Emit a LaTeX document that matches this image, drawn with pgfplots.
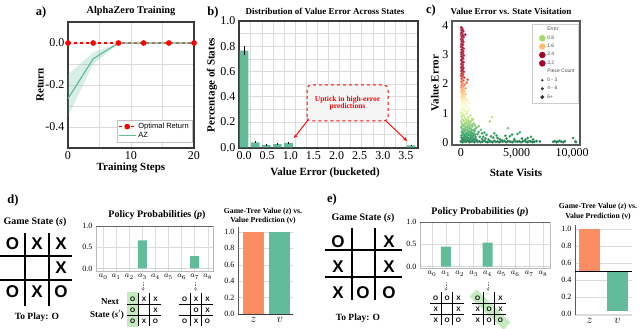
\documentclass[border=0pt]{standalone}
\usepackage{pgfplots}
\pgfplotsset{compat=1.18}
\usetikzlibrary{arrows.meta}
\usepackage{fontspec}
\setmainfont{Liberation Serif}
\setsansfont{Liberation Sans}
\definecolor{sgreen}{HTML}{62BC9A}
\definecolor{sorange}{HTML}{FC8D62}
\definecolor{spine}{HTML}{3A3A3A}
\definecolor{gridc}{HTML}{DCDCDC}
\definecolor{hl}{HTML}{C5EAC0}
\definecolor{lg1}{HTML}{A6D96A}
\definecolor{lg2}{HTML}{FDBF6F}
\definecolor{lg3}{HTML}{A50026}
\newcommand{\fs}[1]{\fontsize{#1}{#1}\selectfont}
\pgfplotsset{
  base/.style={scale only axis, anchor=south west,
    axis line style={spine, line width=1.2pt},
    major tick length=0pt, minor tick length=0pt,
    /pgf/number format/assume math mode=true,
    ticklabel style={font=\fs{12}},
    grid style={gridc, line width=0.7pt},
    minor grid style={gridc, line width=0.7pt},
  },
  small/.style={scale only axis, anchor=south west,
    axis line style={gray!55, line width=0.6pt},
    major tick length=0pt, minor tick length=0pt,
    /pgf/number format/assume math mode=true,
    ticklabel style={font=\fs{8}},
    grid style={gridc, line width=0.5pt},
  },
}
\newcommand{\smallboard}[3]{%
  \foreach \cell [count=\i from 0] in {#3} {
    \pgfmathtruncatemacro{\row}{int(\i/3)}
    \pgfmathtruncatemacro{\col}{mod(\i,3)}
    \node[font=\sffamily\bfseries\fs{6.5}, inner sep=0pt] at ({#1+(\col+0.5)*11.4},{#2+(2.5-\row)*11}) {\cell};
  }
  \draw[line width=0.9pt] ({#1+11.4},{#2}) -- ({#1+11.4},{#2+33}) ({#1+22.8},{#2}) -- ({#1+22.8},{#2+33})
    ({#1},{#2+11}) -- ({#1+34.2},{#2+11}) ({#1},{#2+22}) -- ({#1+34.2},{#2+22});
}
\begin{document}
\begin{tikzpicture}[x=1pt,y=1pt]
\path[use as bounding box] (0,0) rectangle (640,329);

% ---------------- panel a ----------------
\begin{axis}[base, at={(68pt,181pt)}, width=126pt, height=126pt,
  xmin=0, xmax=20, ymin=-0.5, ymax=0.1,
  xtick={0,10,20}, minor xtick={5,15},
  ytick={-0.4,-0.2,0}, yticklabels={-0.4,-0.2,0.0}, minor ytick={-0.3,-0.1},
  grid=both,
  legend style={at={(0.984,0.048)}, anchor=south east, font=\sffamily\fs{7.5},
    draw=gray!50, inner sep=1pt, row sep=-2pt},
  legend cell align=left]
\addplot[fill=sgreen, fill opacity=0.25, draw=none, forget plot] coordinates {(0,-0.15) (4,-0.045) (8,0) (20,0) (20,0) (8,-0.005) (4,-0.10) (0,-0.35)} -- cycle;
\addplot[red, dashed, line width=1.2pt, mark=*, mark size=2.2pt, mark options={solid}] coordinates {(0,0) (4,0) (8,0) (12,0) (16,0) (20,0)};
\addlegendentry{Optimal Return}
\addplot[sgreen, line width=1.2pt] coordinates {(0,-0.265) (4,-0.075) (8,0) (12,0) (16,0) (20,0)};
\addlegendentry{AZ}
\end{axis}
\node[font=\fs{12.5}\bfseries] at (41,317) {a)};
\node[font=\fs{10.3}\bfseries] at (131,318) {AlphaZero Training};
\node[font=\fs{11}\bfseries, rotate=90] at (40,244) {Return};
\node[font=\fs{11}\bfseries] at (131,161) {Training Steps};

% ---------------- panel b ----------------
\begin{axis}[base, at={(239pt,181pt)}, width=179pt, height=127pt,
  xmin=-0.11, xmax=3.76, ymin=-0.005, ymax=1.0,
  xtick={0,0.5,...,3.5}, ytick={0,0.2,...,1.0},
  minor xtick={0.144,0.384,0.624,0.864,1.104,1.344,1.584,1.824,2.064,2.304,2.544,2.784,3.024,3.264,3.504},
  minor ytick={0.1,0.3,0.5,0.7,0.9},
  xmajorgrids=false, xminorgrids=true, ymajorgrids=true, yminorgrids=true,
  xticklabel style={/pgf/number format/.cd, fixed, fixed zerofill, precision=1},
  yticklabel style={/pgf/number format/.cd, fixed, fixed zerofill, precision=1},
  ybar, bar width=8.7pt, bar shift=0pt]
\addplot[fill=sgreen, draw=none,
  error bars/.cd, y dir=both, y explicit, error bar style={black, line width=0.9pt}, error mark=none]
  table[x=x, y=y, y error=e] {
x y e
0.00 0.765 0.035
0.24 0.040 0.008
0.48 0.020 0.005
0.72 0.025 0.006
0.96 0.035 0.010
1.20 0 0
1.44 0 0
1.68 0 0
1.92 0 0
2.16 0 0
2.40 0 0
2.64 0 0
2.88 0 0
3.12 0 0
3.36 0 0
3.61 0.015 0.004
};
\end{axis}
\node[font=\fs{12.5}\bfseries] at (213,317) {b)};
\node[font=\fs{9}\bfseries] at (325,318) {Distribution of Value Error Across States};
\node[font=\fs{11}\bfseries, rotate=90] at (212,244) {Percentage of States};
\node[font=\fs{11}\bfseries] at (325,156) {Value Error (bucketed)};
\draw[red, dashed, line width=1pt, fill=gray!8, rounded corners=4pt] (307,208) rectangle (388,244);
\node[red, font=\fs{7.5}\bfseries, align=center] at (347.5,226) {Uptick in high-error\\predictions};
\draw[red, line width=0.9pt, -{Stealth[length=4pt,width=3.5pt]}] (308,209) -- (294,191);
\draw[red, line width=0.9pt, -{Stealth[length=4pt,width=3.5pt]}] (386,208) -- (407,188);

% ---------------- panel c ----------------
\begin{axis}[base, at={(452pt,184pt)}, width=128pt, height=124pt,
  axis line style={gray!70!black, line width=1.4pt},
  xmin=-810, xmax=10720, ymin=-0.1, ymax=4.17, scaled x ticks=false,
  xtick={0,5000,10000}, xticklabels={0,{5,000},{10,000}}, ytick={0,1,2,3,4},
  colormap={rdylgn}{rgb255=(0,104,55) rgb255=(26,152,80) rgb255=(102,189,99) rgb255=(166,217,106) rgb255=(217,239,139) rgb255=(255,255,191) rgb255=(254,224,139) rgb255=(253,174,97) rgb255=(244,109,67) rgb255=(215,48,39) rgb255=(165,0,38)},
  point meta min=0, point meta max=2.5,
  legend style={at={(0.984,0.976)}, anchor=north east, font=\sffamily\fs{5}, text=gray!60!black,
    draw=gray!40, row sep=-0.6pt, inner sep=1.2pt},
  legend cell align=left]
\addplot[scatter, only marks, mark=*, mark size=1.25pt, point meta=explicit, forget plot,
  scatter/use mapped color={draw=mapped color!70!white, fill=mapped color}]
  table[x=x, y=y, meta=y] {
x y
0 0.02
150 0.00
300 0.03
450 0.01
600 0.04
750 0.00
900 0.02
1050 0.03
1200 0.00
1350 0.04
1500 0.01
1650 0.03
1800 0.00
1950 0.02
2100 0.04
2250 0.01
2400 0.00
2550 0.03
2700 0.02
2850 0.00
3000 0.04
3150 0.01
3300 0.02
3450 0.00
3600 0.03
3750 0.01
3900 0.04
4050 0.00
4200 0.02
4350 0.03
4500 0.01
4650 0.00
4800 0.04
4950 0.02
5100 0.01
5250 0.03
5400 0.00
5550 0.02
5700 0.04
5850 0.01
6000 0.00
6150 0.03
6300 0.02
6450 0.00
6600 0.01
6800 0.03
7100 0.02
8300 0.01
8450 0.03
8600 0.00
8750 0.02
8900 0.04
9050 0.01
9200 0.00
9350 0.03
10300 0.02
10350 0.00
10100 0.14
2800 0.86
2600 0.72
4230 0.48
5300 0.34
5100 0.28
3000 0.30
2900 0.15
3200 0.22
1800 0.42
1900 0.30
2000 0.18
4400 0.20
4100 0.12
4600 0.26
6000 0.14
6300 0.18
5800 0.08
3500 0.10
2300 0.25
1600 0.55
1900 0.10
2200 0.12
2500 0.08
2700 0.20
3300 0.14
3700 0.06
4000 0.22
4800 0.10
5500 0.12
6500 0.09
2100 0.33
1400 0.50
100 0.05
300 0.12
500 0.20
700 0.08
200 0.30
900 0.25
1100 0.05
1300 0.18
250 0.15
650 0.35
850 0.12
1050 0.30
350 0.40
800 0.02
450 0.04
1000 0.06
200 0.08
1300 0.10
600 0.12
900 0.14
50 0.16
1700 0.18
400 0.20
1100 0.22
700 0.24
250 0.26
1500 0.28
850 0.30
500 0.32
80 0.34
1200 0.36
300 0.38
950 0.40
600 0.42
150 0.44
1300 0.46
750 0.48
100 0.10
250 0.05
400 0.09
550 0.16
700 0.13
850 0.21
1000 0.17
1150 0.11
1250 0.26
1400 0.07
50 0.22
180 0.28
320 0.24
480 0.30
620 0.27
780 0.36
930 0.33
1080 0.41
1220 0.39
120 0.37
270 0.45
420 0.43
570 0.50
720 0.55
870 0.47
1020 0.60
60 0.53
210 0.58
360 0.63
510 0.68
660 0.74
820 0.66
1100 0.77
1250 0.58
1600 0.35
30 0.50
400 0.52
1000 0.54
200 0.56
800 0.58
550 0.60
100 0.62
1150 0.64
350 0.66
700 0.68
20 0.70
900 0.72
250 0.74
500 0.76
120 0.78
1000 0.80
380 0.82
650 0.85
60 0.88
280 0.90
850 0.92
150 0.95
450 0.98
10 1.02
600 1.05
320 1.08
90 1.12
750 1.15
200 1.18
550 1.22
30 1.25
400 1.28
120 1.32
700 1.35
280 1.38
60 1.42
480 1.45
150 1.48
350 1.52
20 1.55
250 1.58
100 1.62
420 1.65
180 1.68
30 1.72
300 1.75
80 1.78
140 1.82
400 1.85
10 1.88
220 1.92
60 1.95
350 1.98
120 2.02
520 2.05
30 2.08
200 2.12
600 2.15
60 2.18
290 2.22
130 2.25
10 2.28
190 2.32
50 2.35
100 2.38
260 2.42
30 2.45
150 2.48
70 2.52
210 2.55
20 2.58
110 2.62
170 2.65
40 2.68
80 2.72
230 2.75
140 2.78
10 2.82
60 2.85
190 2.88
120 2.92
30 2.95
250 2.98
70 3.02
160 3.05
20 3.08
200 3.12
100 3.15
50 3.18
240 3.22
140 3.25
10 3.28
80 3.32
180 3.35
30 3.38
120 3.42
210 3.45
60 3.48
150 3.52
20 3.55
90 3.58
230 3.62
50 3.65
170 3.68
380 3.70
10 3.72
110 3.75
60 3.78
200 3.82
30 3.85
140 3.88
80 3.92
20 3.95
};
\addlegendimage{empty legend}\addlegendentry{Error}
\addlegendimage{only marks, mark=*, mark size=3pt, color=lg1}\addlegendentry{0.8}
\addlegendimage{only marks, mark=*, mark size=3pt, color=lg2}\addlegendentry{1.6}
\addlegendimage{only marks, mark=*, mark size=3pt, color=lg3}\addlegendentry{2.4}
\addlegendimage{only marks, mark=*, mark size=3pt, color=lg3}\addlegendentry{3.2}
\addlegendimage{empty legend}\addlegendentry{Piece Count}
\addlegendimage{only marks, mark=*, mark size=0.9pt, color=black!80}\addlegendentry{0 - 3}
\addlegendimage{only marks, mark=*, mark size=1.3pt, color=black!80}\addlegendentry{4 - 6}
\addlegendimage{only marks, mark=*, mark size=1.8pt, color=black!80}\addlegendentry{6+}
\end{axis}
\node[font=\fs{12.5}\bfseries] at (431,319) {c)};
\node[font=\fs{9}\bfseries] at (511,318) {Value Error vs. State Visitation};
\node[font=\fs{11}\bfseries, rotate=90] at (435,246) {Value Error};
\node[font=\fs{11}\bfseries] at (516,156) {State Visits};

% ---------------- panel d ----------------
\node[font=\fs{12.5}\bfseries] at (13,129) {d)};
\node[font=\fs{10}\bfseries] at (35,107) {Game State (\textit{s})};
\draw[line width=1.8pt] (25,96) -- (25,23) (49,96) -- (49,23) (0,73) -- (72,73) (0,49) -- (72,49);
\begin{scope}[every node/.style={font=\sffamily\bfseries\fs{17}}]
\node at (12.5,85) {O}; \node at (37,85) {X}; \node at (61,85) {X};
\node at (61,61) {X};
\node at (12.5,37) {O}; \node at (37,37) {X}; \node at (61,37) {O};
\end{scope}
\node[font=\fs{9.5}\bfseries] at (37,12) {To Play: O};

\begin{axis}[small, at={(96pt,58pt)}, width=117pt, height=45pt,
  xmin=-0.55, xmax=8.4, ymin=-0.06, ymax=1.0,
  xtick={0,...,8}, xticklabels={$a_0$,$a_1$,$a_2$,$a_3$,$a_4$,$a_5$,$a_6$,$a_7$,$a_8$},
  ytick={0,0.5,1}, yticklabels={0.0,0.5,1.0}, grid=major,
  ybar, bar width=9pt, bar shift=0pt]
\addplot[fill=sgreen, draw=none] coordinates {(0,0) (1,0) (2,0) (3,0.66) (4,0) (5,0) (6,0) (7,0.29) (8,0)};
\draw[gray!80!black, line width=0.8pt] (rel axis cs:0,1) -- (rel axis cs:1,1);
\end{axis}
\node[font=\fs{10}\bfseries] at (157,114) {Policy Probabilities (\textit{p})};
\draw[gray, densely dotted, line width=0.7pt, -{Stealth[length=3pt,width=3pt]}] (143,47) -- (143,38);
\draw[gray, densely dotted, line width=0.7pt, -{Stealth[length=3pt,width=3pt]}] (195.5,47) -- (195.5,38);
\fill[hl] (126.5,1.5) rectangle (138.4,37);
\smallboard{127}{2.5}{O,X,X,O,,X,O,X,O}
\smallboard{179}{2.5}{O,X,X,,O,X,O,X,O}
\node[font=\fs{9}\bfseries] at (110,27) {Next};
\node[font=\fs{9}\bfseries] at (107,14) {State (\textit{s}$'$)};

\begin{axis}[small, at={(238pt,15pt)}, width=55pt, height=87pt,
  xmin=-0.58, xmax=1.49, ymin=0, ymax=1.06,
  axis x line*=bottom, axis y line*=left,
  x axis line style={spine, line width=0.8pt}, y axis line style={gray!70!black, line width=0.8pt},
  xtick={0,1}, xticklabels={$z$,$v$}, xticklabel style={font=\fs{12}},
  ytick={0,0.2,...,1.0}, yticklabel style={/pgf/number format/.cd, fixed, fixed zerofill, precision=1},
  ymajorgrids, ybar, bar width=21pt, bar shift=0pt]
\addplot[fill=sorange, draw=none] coordinates {(0,1.0)};
\addplot[fill=sgreen, draw=none] coordinates {(1,0.995)};
\end{axis}
\node[font=\fs{7.7}\bfseries] at (263,117) {Game-Tree Value (\textit{z}) vs.};
\node[font=\fs{7.7}\bfseries] at (263,108) {Value Prediction (v)};

% ---------------- panel e ----------------
\node[font=\fs{12.5}\bfseries] at (332,130) {e)};
\node[font=\fs{10}\bfseries] at (363,111) {Game State (\textit{s})};
\draw[line width=1.8pt] (352,101) -- (352,29) (375,101) -- (375,29) (325,79) -- (402,79) (325,52) -- (402,52);
\begin{scope}[every node/.style={font=\sffamily\bfseries\fs{17}}]
\node at (338,87) {O}; \node at (389,87) {X};
\node at (338,62) {X}; \node at (389,62) {X};
\node at (338,36) {X}; \node at (363,36) {O}; \node at (389,36) {O};
\end{scope}
\node[font=\fs{9.5}\bfseries] at (358,11) {To Play: O};

\begin{axis}[small, at={(420pt,61pt)}, width=130pt, height=46pt,
  xmin=-0.86, xmax=8.5, ymin=-0.03, ymax=1.0,
  xtick={0,...,8}, xticklabels={$a_0$,$a_1$,$a_2$,$a_3$,$a_4$,$a_5$,$a_6$,$a_7$,$a_8$},
  ytick={0,0.5,1}, yticklabels={0.0,0.5,1.0}, grid=major,
  ybar, bar width=10pt, bar shift=0pt]
\addplot[fill=sgreen, draw=none] coordinates {(0,0) (1,0.45) (2,0) (3,0) (4,0.54) (5,0) (6,0) (7,0) (8,0)};
\draw[gray!80!black, line width=0.8pt] (rel axis cs:0,1) -- (rel axis cs:1,1);
\end{axis}
\node[font=\fs{10}\bfseries] at (480,117) {Policy Probabilities (\textit{p})};
\draw[gray, densely dotted, line width=0.7pt, -{Stealth[length=3pt,width=3pt]}] (446,47) -- (446,38);
\draw[gray, densely dotted, line width=0.7pt, -{Stealth[length=3pt,width=3pt]}] (488,47) -- (488,38);
\draw[hl, line width=10pt] (473,36) -- (507,3);
\smallboard{430}{3.5}{O,O,X,X,,X,X,O,O}
\smallboard{472}{3.5}{O,,X,X,O,X,X,O,O}

\begin{axis}[small, at={(575pt,14pt)}, width=57pt, height=90pt,
  xmin=-0.52, xmax=1.52, ymin=-0.51, ymax=0.55,
  axis x line*=bottom, axis y line*=left,
  x axis line style={gridc, line width=0.5pt}, y axis line style={gray!70!black, line width=0.8pt},
  xtick={0,1}, xticklabels={$z$,$v$}, xticklabel style={font=\fs{12}},
  ytick={-0.5,-0.3,-0.1,0.1,0.3,0.5}, yticklabels={0.0,0.2,0.4,0.6,0.8,1.0},
  ymajorgrids, ybar, bar width=21pt, bar shift=0pt]
\addplot[fill=sorange, draw=none] coordinates {(0,0.5)};
\addplot[fill=sgreen, draw=none] coordinates {(1,-0.465)};
\draw[black, line width=0.9pt] (axis cs:-0.52,0) -- (axis cs:1.52,0);
\end{axis}
\node[font=\fs{7.7}\bfseries] at (598,122) {Game-Tree Value (\textit{z}) vs.};
\node[font=\fs{7.7}\bfseries] at (598,112) {Value Prediction (v)};
\end{tikzpicture}
\end{document}
